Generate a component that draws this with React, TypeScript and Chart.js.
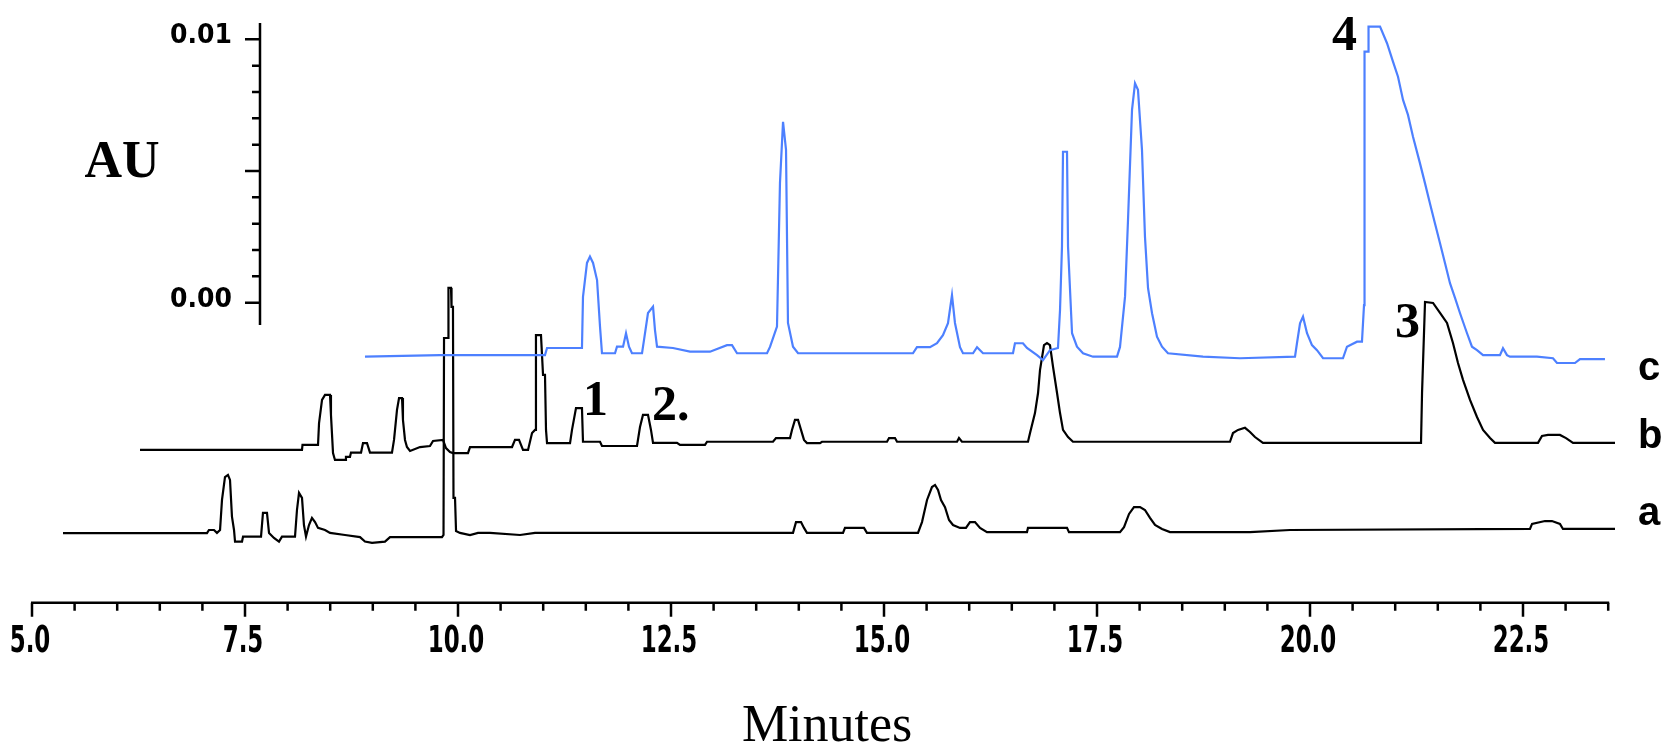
import React, { useEffect, useRef } from 'react';
import { Chart, registerables } from 'chart.js';

Chart.register(...registerables);

// ---- Data (retention time in minutes, absorbance in AU as read on the AU axis) ----
const traceA: [number, number][] = [
  [5.364, -0.00875], [7.054, -0.00875], [7.077, -0.00863], [7.136, -0.00863], [7.171, -0.00874], [7.207, -0.00863],
  [7.230, -0.00749], [7.265, -0.00662], [7.300, -0.00654], [7.324, -0.00673], [7.347, -0.00812], [7.371, -0.00863],
  [7.383, -0.00907], [7.465, -0.00907], [7.477, -0.00888], [7.688, -0.00888], [7.711, -0.00798], [7.758, -0.00798],
  [7.782, -0.00874], [7.840, -0.00893], [7.899, -0.00907], [7.934, -0.00888], [8.087, -0.00888], [8.110, -0.00787],
  [8.134, -0.00722], [8.169, -0.00741], [8.192, -0.00844], [8.216, -0.00888], [8.251, -0.00844], [8.286, -0.00817],
  [8.322, -0.00833], [8.357, -0.00855], [8.439, -0.00863], [8.498, -0.00874], [8.674, -0.00882], [8.850, -0.00890],
  [8.908, -0.00907], [8.991, -0.00912], [9.143, -0.00907], [9.202, -0.00890], [9.812, -0.00890], [9.830, -0.00882],
  [9.836, -0.00134], [9.883, -0.00134], [9.888, 0.00056], [9.918, 0.00056], [9.924, -0.00016], [9.941, -0.00016],
  [9.947, -0.00741], [9.965, -0.00741], [9.977, -0.00867], [10.023, -0.00874], [10.141, -0.00882], [10.235, -0.00874],
  [10.376, -0.00874], [10.728, -0.00882], [10.904, -0.00874], [13.932, -0.00874], [13.967, -0.00833], [14.026, -0.00833],
  [14.061, -0.00855], [14.096, -0.00874], [14.519, -0.00874], [14.542, -0.00855], [14.765, -0.00855], [14.800, -0.00874],
  [15.399, -0.00874], [15.446, -0.00833], [15.505, -0.00749], [15.563, -0.00700], [15.599, -0.00692], [15.634, -0.00711],
  [15.669, -0.00749], [15.716, -0.00776], [15.763, -0.00825], [15.810, -0.00844], [15.892, -0.00855], [15.962, -0.00855],
  [16.009, -0.00833], [16.068, -0.00833], [16.127, -0.00855], [16.209, -0.00871], [16.678, -0.00871], [16.690, -0.00855],
  [17.148, -0.00855], [17.171, -0.00871], [17.770, -0.00871], [17.817, -0.00852], [17.876, -0.00802], [17.934, -0.00776],
  [18.005, -0.00776], [18.063, -0.00787], [18.122, -0.00817], [18.181, -0.00844], [18.263, -0.00859], [18.357, -0.00871],
  [19.296, -0.00871], [19.765, -0.00863], [22.582, -0.00859], [22.606, -0.00840], [22.758, -0.00829], [22.840, -0.00829],
  [22.934, -0.00840], [22.969, -0.00859], [23.580, -0.00859],
];

const traceB: [number, number][] = [
  [6.268, -0.00559], [8.169, -0.00559], [8.175, -0.00540], [8.357, -0.00540], [8.369, -0.00457], [8.404, -0.00369],
  [8.439, -0.00350], [8.498, -0.00350], [8.509, -0.00426], [8.533, -0.00571], [8.556, -0.00597], [8.674, -0.00597],
  [8.685, -0.00585], [8.732, -0.00585], [8.744, -0.00569], [8.862, -0.00569], [8.885, -0.00533], [8.932, -0.00533],
  [8.967, -0.00569], [9.225, -0.00569], [9.249, -0.00521], [9.284, -0.00407], [9.308, -0.00362], [9.343, -0.00362],
  [9.354, -0.00445], [9.378, -0.00521], [9.401, -0.00548], [9.437, -0.00563], [9.554, -0.00548], [9.671, -0.00544],
  [9.707, -0.00525], [9.824, -0.00521], [9.859, -0.00552], [9.906, -0.00567], [9.941, -0.00571], [10.117, -0.00571],
  [10.141, -0.00548], [10.634, -0.00548], [10.669, -0.00521], [10.716, -0.00521], [10.763, -0.00559], [10.822, -0.00559],
  [10.869, -0.00495], [10.904, -0.00483], [10.915, -0.00123], [10.974, -0.00123], [10.998, -0.00274], [11.021, -0.00274],
  [11.033, -0.00483], [11.045, -0.00533], [11.315, -0.00533], [11.338, -0.00483], [11.385, -0.00400], [11.455, -0.00400],
  [11.467, -0.00528], [11.667, -0.00528], [11.690, -0.00544], [12.101, -0.00544], [12.136, -0.00472], [12.171, -0.00426],
  [12.230, -0.00426], [12.265, -0.00483], [12.289, -0.00532], [12.570, -0.00532], [12.606, -0.00540], [12.899, -0.00540],
  [12.923, -0.00528], [13.697, -0.00528], [13.732, -0.00514], [13.897, -0.00514], [13.920, -0.00483], [13.955, -0.00445],
  [13.991, -0.00445], [14.026, -0.00483], [14.061, -0.00521], [14.096, -0.00533], [14.249, -0.00533], [14.272, -0.00528],
  [15.035, -0.00528], [15.059, -0.00514], [15.129, -0.00514], [15.153, -0.00528], [15.857, -0.00528], [15.880, -0.00514],
  [15.915, -0.00528], [16.690, -0.00528], [16.714, -0.00495], [16.772, -0.00419], [16.808, -0.00343], [16.831, -0.00256],
  [16.878, -0.00161], [16.913, -0.00153], [16.948, -0.00161], [16.984, -0.00244], [17.031, -0.00343], [17.066, -0.00419],
  [17.101, -0.00483], [17.160, -0.00510], [17.218, -0.00528], [19.061, -0.00528], [19.096, -0.00495], [19.155, -0.00483],
  [19.237, -0.00475], [19.296, -0.00491], [19.354, -0.00510], [19.448, -0.00532], [21.303, -0.00532], [21.315, -0.00343],
  [21.350, 0.00003], [21.444, -0.00001], [21.526, -0.00039], [21.608, -0.00077], [21.678, -0.00153], [21.737, -0.00229],
  [21.796, -0.00293], [21.878, -0.00369], [21.960, -0.00434], [22.031, -0.00483], [22.113, -0.00514], [22.171, -0.00532],
  [22.676, -0.00532], [22.723, -0.00506], [22.793, -0.00502], [22.934, -0.00502], [23.005, -0.00514], [23.087, -0.00532],
  [23.580, -0.00532],
];

const traceC: [number, number][] = [
  [8.908, -0.00205], [9.789, -0.00199], [11.021, -0.00199], [11.045, -0.00172], [11.455, -0.00172], [11.467, 0.00022],
  [11.514, 0.00151], [11.549, 0.00175], [11.585, 0.00151], [11.632, 0.00086], [11.667, -0.00092], [11.690, -0.00192],
  [11.843, -0.00192], [11.866, -0.00167], [11.937, -0.00167], [11.972, -0.00116], [12.007, -0.00167], [12.042, -0.00192],
  [12.160, -0.00192], [12.183, -0.00142], [12.230, -0.00039], [12.289, -0.00015], [12.312, -0.00104], [12.336, -0.00167],
  [12.523, -0.00172], [12.723, -0.00186], [12.958, -0.00186], [13.157, -0.00161], [13.216, -0.00161], [13.275, -0.00192],
  [13.627, -0.00192], [13.662, -0.00168], [13.744, -0.00091], [13.779, 0.00454], [13.815, 0.00687], [13.850, 0.00580],
  [13.873, -0.00077], [13.932, -0.00167], [13.991, -0.00192], [15.340, -0.00192], [15.387, -0.00169], [15.540, -0.00169],
  [15.622, -0.00154], [15.692, -0.00123], [15.751, -0.00078], [15.798, 0.00029], [15.833, -0.00077], [15.892, -0.00169],
  [15.927, -0.00192], [16.045, -0.00192], [16.092, -0.00169], [16.162, -0.00192], [16.514, -0.00192], [16.537, -0.00154],
  [16.631, -0.00154], [16.678, -0.00172], [16.796, -0.00199], [16.866, -0.00218], [16.948, -0.00180], [17.042, -0.00172],
  [17.066, -0.00028], [17.089, 0.00213], [17.101, 0.00573], [17.148, 0.00573], [17.160, 0.00213], [17.207, -0.00116],
  [17.265, -0.00167], [17.336, -0.00192], [17.453, -0.00205], [17.735, -0.00205], [17.770, -0.00168], [17.829, 0.00023],
  [17.864, 0.00314], [17.911, 0.00732], [17.946, 0.00833], [17.981, 0.00808], [18.028, 0.00580], [18.063, 0.00251],
  [18.099, 0.00055], [18.146, -0.00040], [18.204, -0.00129], [18.263, -0.00167], [18.333, -0.00192], [18.744, -0.00205],
  [19.178, -0.00211], [19.824, -0.00205], [19.847, -0.00154], [19.883, -0.00078], [19.918, -0.00053], [19.965, -0.00116],
  [20.023, -0.00161], [20.082, -0.00180], [20.153, -0.00211], [20.387, -0.00211], [20.434, -0.00167], [20.552, -0.00148],
  [20.610, -0.00148], [20.634, -0.00009], [20.640, 0.00953], [20.681, 0.00953], [20.687, 0.01048], [20.822, 0.01048],
  [20.904, 0.00985], [20.974, 0.00915], [21.033, 0.00858], [21.092, 0.00770], [21.150, 0.00713], [21.209, 0.00630],
  [21.291, 0.00529], [21.350, 0.00453], [21.408, 0.00377], [21.467, 0.00301], [21.526, 0.00226], [21.585, 0.00150],
  [21.643, 0.00074], [21.702, 0.00018], [21.761, -0.00040], [21.843, -0.00116], [21.901, -0.00167], [21.960, -0.00180],
  [22.031, -0.00199], [22.230, -0.00199], [22.265, -0.00173], [22.312, -0.00199], [22.347, -0.00205], [22.664, -0.00205],
  [22.852, -0.00211], [22.899, -0.00229], [23.110, -0.00229], [23.169, -0.00214], [23.462, -0.00214],
];

// ---- Axes / labels ----
const X_MIN = 5.0;
const X_MAX = 23.5;
const Y_MIN = -0.01139;
const Y_MAX = 0.011492;
const xMajorTicks = [5.0, 7.5, 10.0, 12.5, 15.0, 17.5, 20.0, 22.5];
const xMinorStep = 0.5;
const auAxisPosition = 7.676; // minutes, where the AU axis stands
const auAxisRange = [-0.00085, 0.01062];
const auTickLabels = [0.0, 0.01];
const auMinorStep = 0.001;
const peakLabels = [
  { text: '1', t: 11.467, v: -0.00426 },
  { text: '2.', t: 12.277, v: -0.00445 },
  { text: '3', t: 20.998, v: -0.00131 },
  { text: '4', t: 20.258, v: 0.00959 },
];
const traceLabels = [
  { text: 'c', v: -0.00294 },
  { text: 'b', v: -0.00552 },
  { text: 'a', v: -0.00844 },
];
const traceLabelTime = 23.85;

const BLUE = '#4d80ff';

// draw text squeezed horizontally (narrow, tall instrument-style digits)
function squeezedText(ctx: CanvasRenderingContext2D, text: string, x: number, y: number, sx: number) {
  ctx.save();
  ctx.translate(x, y);
  ctx.scale(sx, 1);
  ctx.fillText(text, 0, 0);
  ctx.restore();
}

const overlayPlugin = {
  id: 'overlay',
  afterDraw(chart: any) {
    const ctx: CanvasRenderingContext2D = chart.ctx;
    const xs = chart.scales.x;
    const ys = chart.scales.y;
    const area = chart.chartArea;
    ctx.save();
    ctx.strokeStyle = '#000';
    ctx.fillStyle = '#000';
    ctx.lineCap = 'butt';

    // ---- X axis ----
    const axisY = area.bottom;
    ctx.lineWidth = 2.5;
    ctx.beginPath();
    ctx.moveTo(xs.getPixelForValue(X_MIN) - 1, axisY);
    ctx.lineTo(xs.getPixelForValue(X_MAX) + 1, axisY);
    ctx.stroke();
    ctx.beginPath();
    const nMinor = Math.round((X_MAX - X_MIN) / xMinorStep);
    for (let i = 0; i <= nMinor; i++) {
      const v = X_MIN + i * xMinorStep;
      const isMajor = xMajorTicks.some((m) => Math.abs(m - v) < 1e-6);
      const px = xs.getPixelForValue(v);
      ctx.moveTo(px, axisY);
      ctx.lineTo(px, axisY + (isMajor ? 14 : 8));
    }
    ctx.stroke();
    ctx.font = "bold 37px 'DejaVu Sans', sans-serif";
    ctx.textAlign = 'center';
    ctx.textBaseline = 'middle';
    xMajorTicks.forEach((m) => {
      squeezedText(ctx, m.toFixed(1), xs.getPixelForValue(m) - 2, axisY + 40, 0.62);
    });

    // X title
    ctx.font = "52px 'Liberation Serif', 'Times New Roman', serif";
    ctx.textBaseline = 'alphabetic';
    ctx.textAlign = 'center';
    ctx.fillText('Minutes', (area.left + area.right) / 2 + 7, 741);

    // ---- AU axis ----
    const ax = xs.getPixelForValue(auAxisPosition);
    ctx.lineWidth = 2.5;
    ctx.beginPath();
    ctx.moveTo(ax, ys.getPixelForValue(auAxisRange[1]));
    ctx.lineTo(ax, ys.getPixelForValue(auAxisRange[0]));
    ctx.stroke();
    ctx.beginPath();
    for (let i = 0; i <= 10; i++) {
      const v = i * auMinorStep;
      const py = ys.getPixelForValue(v);
      const isMajor = i % 5 === 0;
      ctx.moveTo(ax, py);
      ctx.lineTo(ax - (isMajor ? 15 : 8), py);
    }
    ctx.stroke();
    ctx.font = "bold 27px 'DejaVu Sans', sans-serif";
    ctx.textAlign = 'right';
    ctx.textBaseline = 'middle';
    auTickLabels.forEach((v) => {
      squeezedText(ctx, v.toFixed(2), ax - 28, ys.getPixelForValue(v) - 3, 0.93);
    });
    ctx.font = "bold 52px 'Liberation Serif', 'Times New Roman', serif";
    ctx.textAlign = 'center';
    ctx.textBaseline = 'alphabetic';
    ctx.fillText('AU', xs.getPixelForValue(X_MIN) + 90, 177);

    // ---- Peak numbers ----
    ctx.font = "bold 50px 'Liberation Serif', 'Times New Roman', serif";
    ctx.textAlign = 'left';
    ctx.textBaseline = 'alphabetic';
    peakLabels.forEach((p) => {
      ctx.fillText(p.text, xs.getPixelForValue(p.t), ys.getPixelForValue(p.v));
    });

    // ---- Trace letters ----
    ctx.font = "bold 40px 'Liberation Sans', Arial, sans-serif";
    ctx.textAlign = 'left';
    traceLabels.forEach((l) => {
      ctx.fillText(l.text, xs.getPixelForValue(traceLabelTime), ys.getPixelForValue(l.v));
    });
    ctx.restore();
  },
};

const toPoints = (arr: [number, number][]) => arr.map(([x, y]) => ({ x, y }));

export default function App() {
  const canvasRef = useRef<HTMLCanvasElement | null>(null);

  useEffect(() => {
    if (!canvasRef.current) return;
    const chart = new Chart(canvasRef.current, {
      type: 'line',
      data: {
        datasets: [
          { label: 'c', data: toPoints(traceC), borderColor: BLUE, borderWidth: 2.2, pointRadius: 0, tension: 0, clip: false as any },
          { label: 'b', data: toPoints(traceB), borderColor: '#000', borderWidth: 2.2, pointRadius: 0, tension: 0, clip: false as any },
          { label: 'a', data: toPoints(traceA), borderColor: '#000', borderWidth: 2.2, pointRadius: 0, tension: 0, clip: false as any },
        ],
      },
      options: {
        animation: false,
        responsive: false,
        devicePixelRatio: 1,
        parsing: false as any,
        normalized: true,
        layout: { padding: { left: 32, right: 58.8, top: 0, bottom: 144.3 } },
        scales: {
          x: { type: 'linear', min: X_MIN, max: X_MAX, display: false },
          y: { type: 'linear', min: Y_MIN, max: Y_MAX, display: false },
        },
        plugins: {
          legend: { display: false },
          tooltip: { enabled: false },
          title: { display: false },
        },
        events: [],
      },
      plugins: [overlayPlugin],
    });
    return () => chart.destroy();
  }, []);

  return (
    <div style={{ position: 'absolute', left: 0, top: 0, width: 1667, height: 747, background: '#fff' }}>
      <canvas ref={canvasRef} width={1667} height={747} style={{ display: 'block' }} />
    </div>
  );
}
